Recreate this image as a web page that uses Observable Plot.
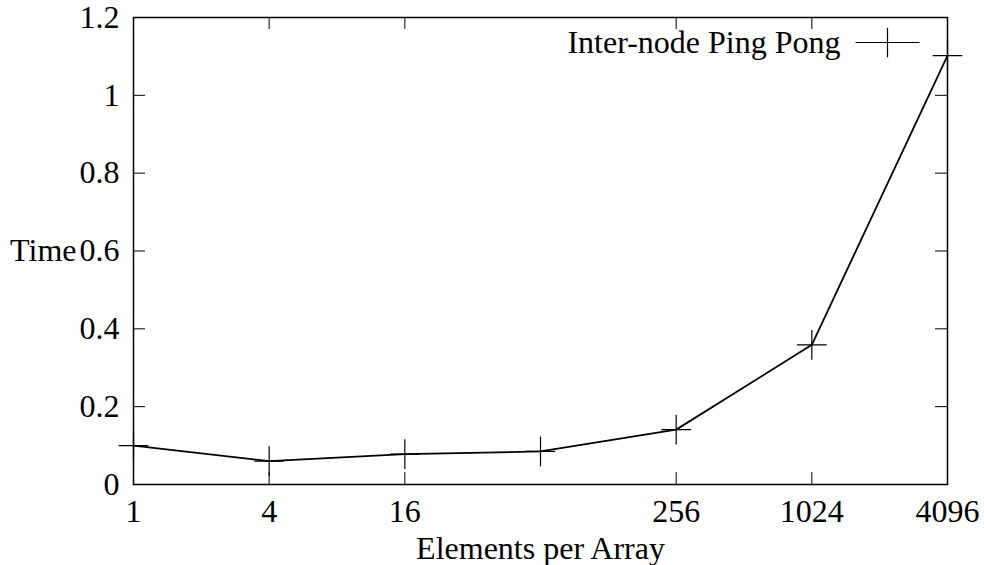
<!DOCTYPE html>
<html>
<head>
<meta charset="utf-8">
<script src="https://cdn.jsdelivr.net/npm/d3@7"></script>
<script src="https://cdn.jsdelivr.net/npm/@observablehq/plot@0.6"></script>
<style>
  body { margin: 0; background: #fff; }
  #chart svg { display: block; }
</style>
</head>
<body>
<div id="chart"></div>
<script>
// Ping pong timings by array length
const elements = [1, 4, 16, 64, 256, 1024, 4096];
const times = [0.100, 0.060, 0.078, 0.085, 0.141, 0.359, 1.102];
const xTicks = [1, 4, 16, 256, 1024, 4096];
const yTicks = [0, 0.2, 0.4, 0.6, 0.8, 1, 1.2];
const seriesName = "Inter-node Ping Pong";
const xLabel = "Elements per Array";
const yLabel = "Time";

const data = elements.map((e, i) => ({elements: e, time: times[i]}));

const W = 984, H = 565;
const mL = 133, mR = 37, mT = 17, mB = 81;
const plotW = W - mL - mR, plotH = H - mT - mB;
const tickLen = 12;
const fontSize = 32;
const fontFamily = "Liberation Serif, Times New Roman, serif";
const textStyle = {fontSize, fontFamily};

// a plain stroke used for the legend's line sample
const lineShape = {draw(ctx, l) { ctx.moveTo(0, 0); ctx.lineTo(0, -l); }};

const chart = Plot.plot({
  width: W,
  height: H,
  marginLeft: mL,
  marginRight: mR,
  marginTop: mT,
  marginBottom: mB,
  style: {fontSize: fontSize + "px", fontFamily, background: "#fff", color: "#000"},
  x: {type: "log", base: 2, domain: [1, 4096]},
  y: {domain: [0, 1.2]},
  marks: [
    // inward ticks on all four sides
    Plot.ruleX(xTicks, {x: d => d, insetTop: plotH - tickLen, stroke: "#000", strokeWidth: 1}),
    Plot.ruleX(xTicks, {x: d => d, insetBottom: plotH - tickLen, stroke: "#000", strokeWidth: 1}),
    Plot.ruleY(yTicks, {y: d => d, insetRight: plotW - tickLen, stroke: "#000", strokeWidth: 1}),
    Plot.ruleY(yTicks, {y: d => d, insetLeft: plotW - tickLen, stroke: "#000", strokeWidth: 1}),
    Plot.axisX({ticks: xTicks, tickFormat: d => String(d), tickSize: 0, tickPadding: 15, label: null, ...textStyle}),
    Plot.axisY({ticks: yTicks, tickFormat: d => String(d), tickSize: 0, tickPadding: 14, label: null, ...textStyle}),
    Plot.frame({stroke: "#000", strokeWidth: 1.5}),
    Plot.line(data, {x: "elements", y: "time", stroke: "#000", strokeWidth: 1.8}),
    Plot.dot(data, {x: "elements", y: "time", symbol: "plus", r: 9.6, stroke: "#000", strokeWidth: 1.2}),
    // legend
    Plot.text([seriesName], {text: d => d, frameAnchor: "top-right", dx: -107, dy: 25, textAnchor: "end", lineAnchor: "middle", ...textStyle}),
    Plot.vector([seriesName], {frameAnchor: "top-right", dx: -60, dy: 25, length: 63, rotate: 90, anchor: "middle", shape: lineShape, stroke: "#000", strokeWidth: 1.2}),
    Plot.dot([seriesName], {frameAnchor: "top-right", dx: -60, dy: 25, symbol: "plus", r: 9.6, stroke: "#000", strokeWidth: 1.2}),
    // axis titles
    Plot.text([yLabel], {text: d => d, frameAnchor: "left", dx: -57, textAnchor: "end", lineAnchor: "middle", ...textStyle}),
    Plot.text([xLabel], {text: d => d, frameAnchor: "bottom", dy: 64, lineAnchor: "middle", ...textStyle})
  ]
});

document.getElementById("chart").appendChild(chart);
</script>
</body>
</html>
